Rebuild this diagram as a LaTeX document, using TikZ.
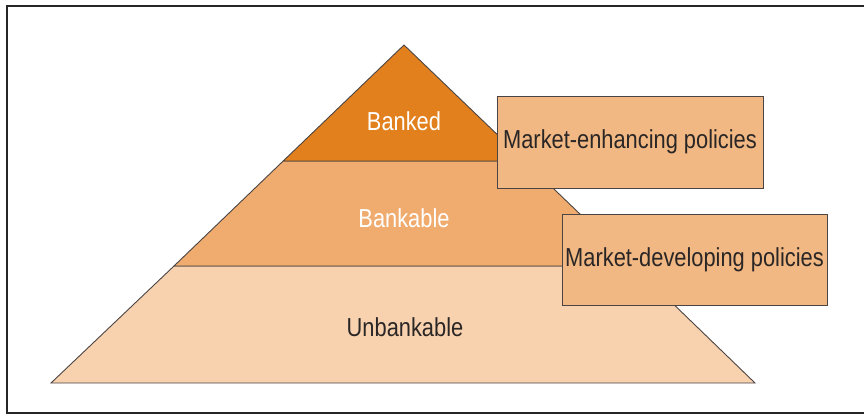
\documentclass[tikz,border=0pt]{standalone}
\usepackage{fontspec}
\setmainfont[FakeStretch=0.84]{Liberation Sans}
\definecolor{bankedc}{HTML}{E2801E}
\definecolor{bankablec}{HTML}{F0AC6E}
\definecolor{unbankc}{HTML}{F8D2AE}
\definecolor{boxc}{HTML}{F1B883}
\definecolor{edgec}{HTML}{4A4444}
\definecolor{txtc}{HTML}{2A2626}
\begin{document}
\begin{tikzpicture}[x=1pt,y=-1pt,
  band/.style={draw=edgec,line width=0.9pt,line join=miter},
  lbl/.style={font=\fontsize{26}{30}\selectfont,inner sep=0pt},
  policybox/.style={draw=edgec,line width=1pt,fill=boxc,text=txtc,font=\fontsize{26}{30}\selectfont,inner sep=0pt}]
\useasboundingbox (0,0) rectangle (864,415);
% frame
\draw[line width=2.2pt,draw=black!85] (864,6) -- (7,6) -- (7,413) -- (864,413);
% pyramid bands
\coordinate (apex) at (404,45);
\coordinate (bl1) at (283.2,161);
\coordinate (br1) at (524.8,161);
\coordinate (bl2) at (174,266);
\coordinate (br2) at (634,266);
\coordinate (bl3) at (51,383);
\coordinate (br3) at (755,383);
\filldraw[band,fill=unbankc] (bl2) -- (br2) -- (br3) -- (bl3) -- cycle;
\filldraw[band,fill=bankablec] (bl1) -- (br1) -- (br2) -- (bl2) -- cycle;
\filldraw[band,fill=bankedc] (apex) -- (br1) -- (bl1) -- cycle;
\node[lbl,text=white] (banked) at (404,121) {Banked};
\node[lbl,text=white] (bankable) at (404,218) {Bankable};
\node[lbl,text=txtc] (unbankable) at (405,327) {Unbankable};
% policy boxes
\node[policybox,minimum width=266pt,minimum height=92pt] (enh) at (630,142) {Market-enhancing policies};
\node[policybox,minimum width=265pt,minimum height=91pt] (dev) at (694.5,259.5) {Market-developing policies};
\end{tikzpicture}
\end{document}
